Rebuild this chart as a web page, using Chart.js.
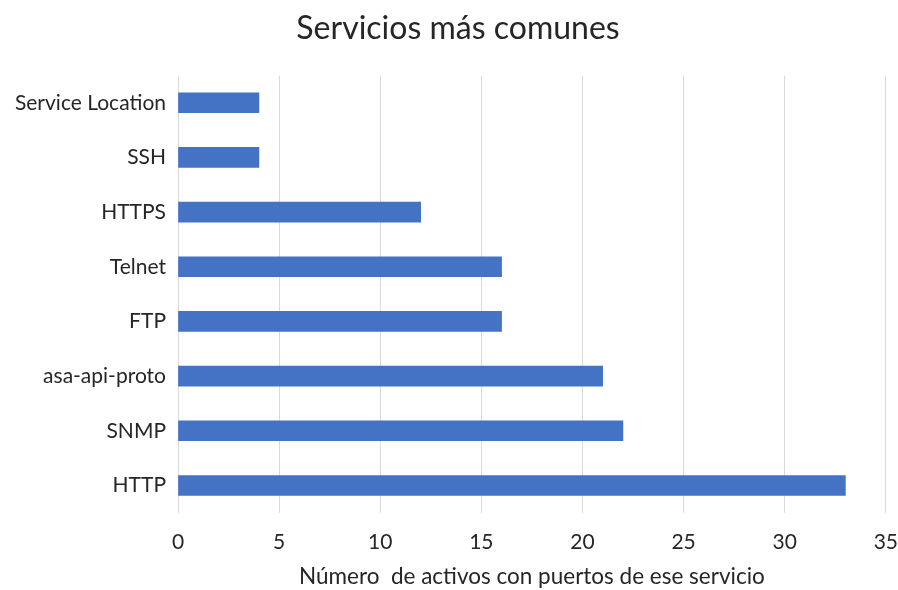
<!DOCTYPE html>
<html>
<head>
<meta charset="utf-8">
<script src="https://cdn.jsdelivr.net/npm/chart.js@4/dist/chart.umd.min.js"></script>
<style>
html,body{margin:0;padding:0;background:#fff;}
#wrap{width:898px;height:590px;}
</style>
</head>
<body>
<div id="wrap"><canvas id="c" width="898" height="590"></canvas></div>
<script>
const categories = ["Service Location", "SSH", "HTTPS", "Telnet", "FTP", "asa-api-proto", "SNMP", "HTTP"];
const values = [4, 4, 12, 16, 16, 21, 22, 33];
const xTicks = [0, 5, 10, 15, 20, 25, 30, 35];
const chartTitle = "Servicios más comunes";
const xTitle = "Número  de activos con puertos de ese servicio";

const FONT = "Lato, 'Open Sans', sans-serif";

const shiftTitle = {
  id: 'shiftTitle',
  afterLayout(chart) {
    const t = chart.titleBlock;
    if (t) { t.left += 12; t.right += 12; }
  }
};

new Chart(document.getElementById('c'), {
  type: 'bar',
  data: {
    labels: categories,
    datasets: [{
      data: values,
      backgroundColor: '#4472C4',
      borderWidth: 0,
      barThickness: 20
    }]
  },
  options: {
    indexAxis: 'y',
    responsive: false,
    animation: false,
    devicePixelRatio: 1,
    layout: { padding: { left: 6, right: 12, top: 9, bottom: 0 } },
    plugins: {
      legend: { display: false },
      tooltip: { enabled: false },
      title: {
        display: true,
        text: chartTitle,
        color: '#262626',
        font: { family: FONT, size: 32, weight: 'normal' },
        padding: { top: 0, bottom: 28 }
      }
    },
    scales: {
      x: {
        min: 0, max: 35,
        afterBuildTicks: (ax) => { ax.ticks = xTicks.map(v => ({ value: v })); },
        grid: { color: '#d9d9d9', drawTicks: true, tickLength: 17, tickColor: 'rgba(0,0,0,0)', lineWidth: 1 },
        border: { display: false },
        ticks: { color: '#262626', font: { family: FONT, size: 21 }, padding: 0 },
        title: {
          display: true,
          text: xTitle,
          color: '#262626',
          font: { family: FONT, size: 22.5 },
          padding: { top: 8, bottom: 0 }
        }
      },
      y: {
        grid: { display: false, drawTicks: false },
        border: { display: false },
        afterFit: (ax) => { ax.width = 172; },
        ticks: { color: '#262626', font: { family: FONT, size: 21 }, padding: 12 }
      }
    }
  },
  plugins: [shiftTitle]
});
</script>
</body>
</html>
